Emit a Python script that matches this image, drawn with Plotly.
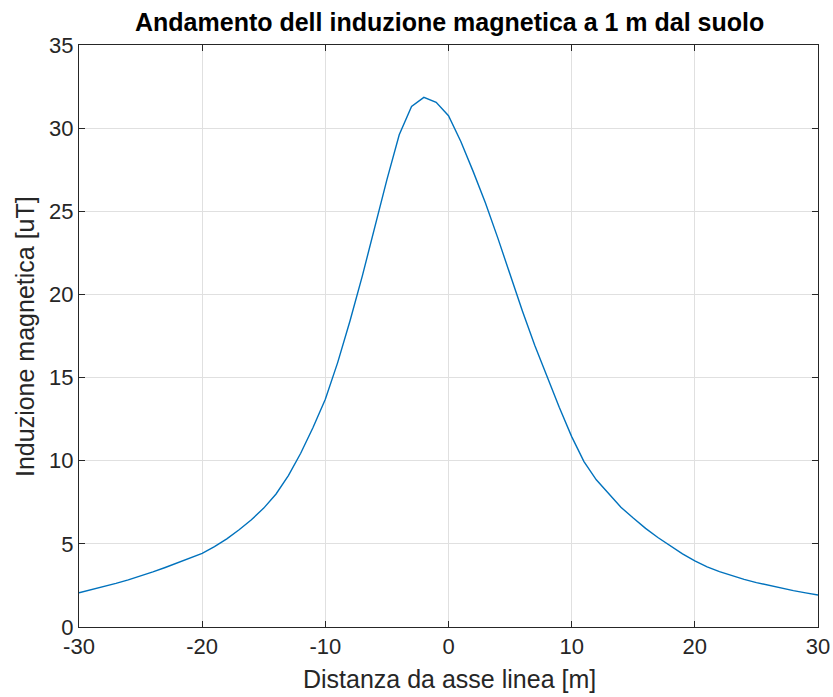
import plotly.graph_objects as go

distanza = list(range(-30, 31))
induzione = [
    2.06, 2.24, 2.42, 2.62, 2.83, 3.06, 3.31, 3.58, 3.85, 4.12,   # -30..-21
    4.43, 4.83, 5.30, 5.85, 6.45, 7.15, 8.00, 9.10, 10.45, 12.00,  # -20..-11
    13.70, 15.90, 18.40, 21.10, 24.00, 26.90, 29.60, 31.30, 31.85, 31.55,  # -10..-1
    30.75,  # 0
    29.20, 27.40, 25.50, 23.40, 21.15, 19.00, 16.95, 15.05, 13.20, 11.45,  # 1..10
    9.95, 8.85, 8.00, 7.20, 6.55, 5.93, 5.38, 4.88, 4.40, 3.97,   # 11..20
    3.62, 3.33, 3.08, 2.86, 2.67, 2.50, 2.34, 2.19, 2.05, 1.92,   # 21..30
]
x_ticks = [-30, -20, -10, 0, 10, 20, 30]
x_tick_labels = ["-30", "-20", "-10", "0", "10", "20", "30"]
y_ticks = [0, 5, 10, 15, 20, 25, 30, 35]
y_tick_labels = ["0", "5", "10", "15", "20", "25", "30", "35"]

titolo = "Andamento dell induzione magnetica a 1 m dal suolo"
x_label = "Distanza da asse linea [m]"
y_label = "Induzione magnetica [uT]"

FONT = "Liberation Sans, Arial, Helvetica, sans-serif"
TXT = "#262626"

W, H = 833, 697
# plot area on the page: x 79..818, y 45..627
L, R, T, B = 79, W - 818, 45, H - 627
pw, ph = W - L - R, H - T - B


def px(xs):
    return (xs - L) / pw


def py(ys):
    return (H - B - ys) / ph


fig = go.Figure()
fig.add_trace(go.Scatter(
    x=distanza, y=induzione, mode="lines",
    line=dict(color="#0072BD", width=1.4),
    showlegend=False, hoverinfo="x+y",
))

axis_common = dict(
    showline=True, linecolor=TXT, linewidth=1, mirror="ticks",
    ticks="inside", ticklen=6, tickcolor=TXT,
    showgrid=True, gridcolor="#E0E0E0", gridwidth=1,
    zeroline=False, automargin=False,
    tickfont=dict(family=FONT, size=22, color=TXT),
)

fig.update_layout(
    width=W, height=H,
    paper_bgcolor="white", plot_bgcolor="white",
    margin=dict(l=L, r=R, t=T, b=B, autoexpand=False),
    xaxis=dict(range=[-30, 30], tickvals=x_ticks, ticktext=x_tick_labels, **axis_common),
    yaxis=dict(range=[0, 35], tickvals=y_ticks, ticktext=y_tick_labels, **axis_common),
    annotations=[
        dict(text="<b>" + titolo + "</b>", xref="paper", yref="paper",
             x=px(449), y=py(22), xanchor="center", yanchor="middle",
             showarrow=False, font=dict(family=FONT, size=25, color="black")),
        dict(text=x_label, xref="paper", yref="paper",
             x=px(449), y=py(679),
             xanchor="center", yanchor="middle", showarrow=False,
             font=dict(family=FONT, size=25, color=TXT)),
        dict(text=y_label, xref="paper", yref="paper",
             x=px(25), y=py(337), textangle=-90,
             xanchor="center", yanchor="middle", showarrow=False,
             font=dict(family=FONT, size=25, color=TXT)),
    ],
)

fig.write_html(
    "out.html",
    config={"displayModeBar": False},
    post_script="document.body.style.margin='0px';document.body.style.overflow='hidden';",
)
